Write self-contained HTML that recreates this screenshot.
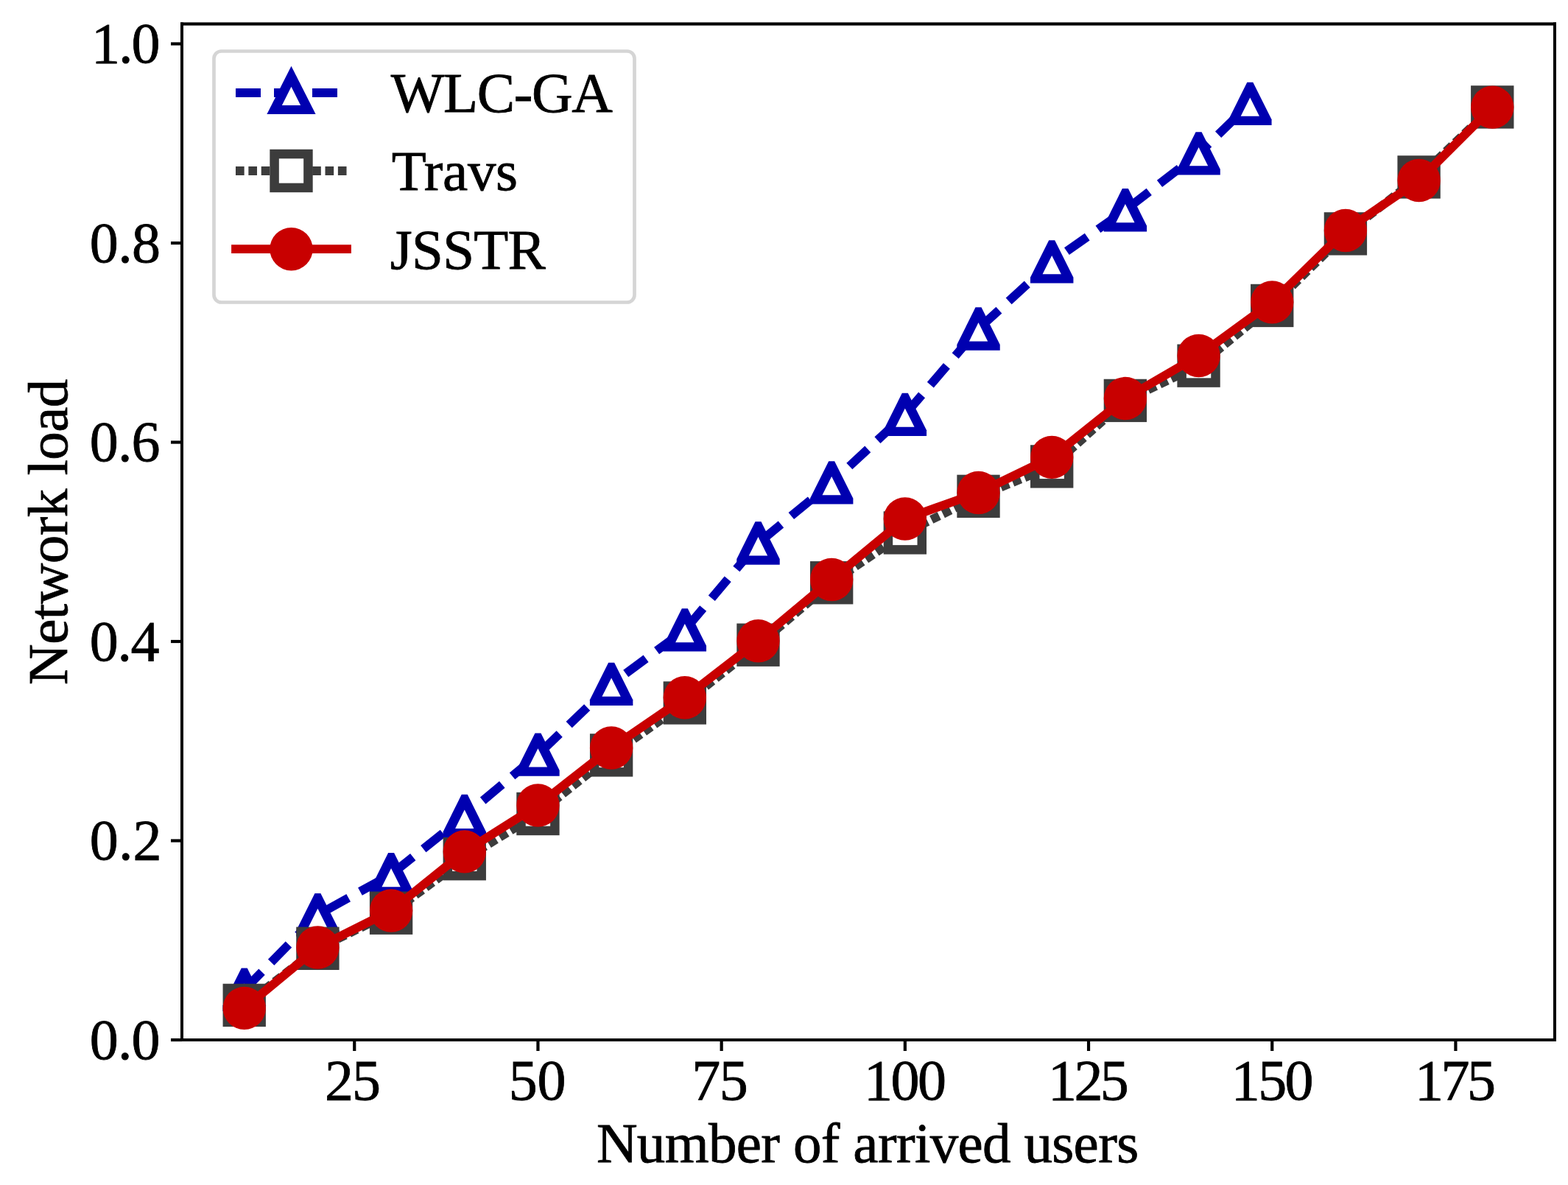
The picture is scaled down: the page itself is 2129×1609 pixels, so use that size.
<!DOCTYPE html><html><head><meta charset="utf-8"><title>Network load</title><style>html,body{margin:0;padding:0;background:#fff}svg{display:block}text{font-family:"Liberation Serif","Times New Roman",serif;fill:#000;stroke:#000;stroke-width:0.8px}</style></head><body>
<svg width="2129" height="1609" viewBox="0 0 2129 1609">
<rect width="2129" height="1609" fill="#fff"/>
<defs><clipPath id="ax"><rect x="247" y="32.5" width="1864" height="1379.5"/></clipPath></defs>
<g clip-path="url(#ax)">
<polyline points="331.73,1343.8 431.41,1242.2 531.09,1187.3 630.76,1108 730.44,1024.6 830.12,928.9 929.8,855.4 1029.48,737.5 1129.16,655.4 1228.84,562.9 1328.52,446.5 1428.2,355.4 1527.88,285.3 1627.56,208.45 1697.33,140.8" fill="none" stroke="#0000b0" stroke-width="11.8" stroke-dasharray="34 18" stroke-linecap="butt" stroke-linejoin="round"/>
<path fill="#0000b0" d="M327.73,1314.62 L335.73,1314.62 L360.95,1365.2 L360.95,1372.97 L302.5,1372.97 L302.5,1365.2Z"/><path fill="#fff" d="M331.73,1335.4 L344.38,1360.7 L319.08,1360.7Z"/>
<path fill="#0000b0" d="M427.41,1213.03 L435.41,1213.03 L460.63,1263.6 L460.63,1271.38 L402.18,1271.38 L402.18,1263.6Z"/><path fill="#fff" d="M431.41,1233.8 L444.06,1259.1 L418.76,1259.1Z"/>
<path fill="#0000b0" d="M527.09,1158.12 L535.09,1158.12 L560.31,1208.7 L560.31,1216.47 L501.86,1216.47 L501.86,1208.7Z"/><path fill="#fff" d="M531.09,1178.9 L543.74,1204.2 L518.44,1204.2Z"/>
<path fill="#0000b0" d="M626.76,1078.83 L634.76,1078.83 L659.99,1129.4 L659.99,1137.17 L601.54,1137.17 L601.54,1129.4Z"/><path fill="#fff" d="M630.76,1099.6 L643.41,1124.9 L618.11,1124.9Z"/>
<path fill="#0000b0" d="M726.44,995.42 L734.44,995.42 L759.67,1046 L759.67,1053.77 L701.22,1053.77 L701.22,1046Z"/><path fill="#fff" d="M730.44,1016.2 L743.09,1041.5 L717.79,1041.5Z"/>
<path fill="#0000b0" d="M826.12,899.73 L834.12,899.73 L859.35,950.3 L859.35,958.07 L800.9,958.07 L800.9,950.3Z"/><path fill="#fff" d="M830.12,920.5 L842.77,945.8 L817.47,945.8Z"/>
<path fill="#0000b0" d="M925.8,826.23 L933.8,826.23 L959.03,876.8 L959.03,884.57 L900.58,884.57 L900.58,876.8Z"/><path fill="#fff" d="M929.8,847 L942.45,872.3 L917.15,872.3Z"/>
<path fill="#0000b0" d="M1025.48,708.33 L1033.48,708.33 L1058.71,758.9 L1058.71,766.67 L1000.26,766.67 L1000.26,758.9Z"/><path fill="#fff" d="M1029.48,729.1 L1042.13,754.4 L1016.83,754.4Z"/>
<path fill="#0000b0" d="M1125.16,626.23 L1133.16,626.23 L1158.39,676.8 L1158.39,684.57 L1099.94,684.57 L1099.94,676.8Z"/><path fill="#fff" d="M1129.16,647 L1141.81,672.3 L1116.51,672.3Z"/>
<path fill="#0000b0" d="M1224.84,533.73 L1232.84,533.73 L1258.06,584.3 L1258.06,592.07 L1199.61,592.07 L1199.61,584.3Z"/><path fill="#fff" d="M1228.84,554.5 L1241.49,579.8 L1216.19,579.8Z"/>
<path fill="#0000b0" d="M1324.52,417.32 L1332.52,417.32 L1357.74,467.9 L1357.74,475.68 L1299.29,475.68 L1299.29,467.9Z"/><path fill="#fff" d="M1328.52,438.1 L1341.17,463.4 L1315.87,463.4Z"/>
<path fill="#0000b0" d="M1424.2,326.22 L1432.2,326.22 L1457.42,376.8 L1457.42,384.57 L1398.97,384.57 L1398.97,376.8Z"/><path fill="#fff" d="M1428.2,347 L1440.85,372.3 L1415.55,372.3Z"/>
<path fill="#0000b0" d="M1523.88,256.12 L1531.88,256.12 L1557.1,306.7 L1557.1,314.48 L1498.65,314.48 L1498.65,306.7Z"/><path fill="#fff" d="M1527.88,276.9 L1540.53,302.2 L1515.23,302.2Z"/>
<path fill="#0000b0" d="M1623.56,179.27 L1631.56,179.27 L1656.78,229.85 L1656.78,237.62 L1598.33,237.62 L1598.33,229.85Z"/><path fill="#fff" d="M1627.56,200.05 L1640.21,225.35 L1614.91,225.35Z"/>
<path fill="#0000b0" d="M1693.33,111.63 L1701.33,111.63 L1726.56,162.2 L1726.56,169.98 L1668.11,169.98 L1668.11,162.2Z"/><path fill="#fff" d="M1697.33,132.4 L1709.98,157.7 L1684.68,157.7Z"/>
<polyline points="331.73,1364.9 431.41,1287.8 531.09,1239.7 630.76,1166.2 730.44,1105 830.12,1025.4 929.8,954.45 1029.48,875.7 1129.16,791.25 1228.84,723.45 1328.52,673.85 1428.2,633.4 1527.88,543.9 1627.56,496.65 1727.24,414.95 1826.91,317.4 1926.59,240.45 2026.27,145.4" fill="none" stroke="#3c3c3c" stroke-width="11.8" stroke-dasharray="11.65 5.71" stroke-linecap="butt" stroke-linejoin="round"/>
<rect x="308.8" y="1341.98" width="45.85" height="45.85" fill="#fff" stroke="#3c3c3c" stroke-width="12.5"/>
<rect x="408.48" y="1264.88" width="45.85" height="45.85" fill="#fff" stroke="#3c3c3c" stroke-width="12.5"/>
<rect x="508.16" y="1216.78" width="45.85" height="45.85" fill="#fff" stroke="#3c3c3c" stroke-width="12.5"/>
<rect x="607.84" y="1143.28" width="45.85" height="45.85" fill="#fff" stroke="#3c3c3c" stroke-width="12.5"/>
<rect x="707.52" y="1082.08" width="45.85" height="45.85" fill="#fff" stroke="#3c3c3c" stroke-width="12.5"/>
<rect x="807.2" y="1002.48" width="45.85" height="45.85" fill="#fff" stroke="#3c3c3c" stroke-width="12.5"/>
<rect x="906.88" y="931.53" width="45.85" height="45.85" fill="#fff" stroke="#3c3c3c" stroke-width="12.5"/>
<rect x="1006.56" y="852.78" width="45.85" height="45.85" fill="#fff" stroke="#3c3c3c" stroke-width="12.5"/>
<rect x="1106.24" y="768.33" width="45.85" height="45.85" fill="#fff" stroke="#3c3c3c" stroke-width="12.5"/>
<rect x="1205.91" y="700.53" width="45.85" height="45.85" fill="#fff" stroke="#3c3c3c" stroke-width="12.5"/>
<rect x="1305.59" y="650.93" width="45.85" height="45.85" fill="#fff" stroke="#3c3c3c" stroke-width="12.5"/>
<rect x="1405.27" y="610.48" width="45.85" height="45.85" fill="#fff" stroke="#3c3c3c" stroke-width="12.5"/>
<rect x="1504.95" y="520.98" width="45.85" height="45.85" fill="#fff" stroke="#3c3c3c" stroke-width="12.5"/>
<rect x="1604.63" y="473.72" width="45.85" height="45.85" fill="#fff" stroke="#3c3c3c" stroke-width="12.5"/>
<rect x="1704.31" y="392.02" width="45.85" height="45.85" fill="#fff" stroke="#3c3c3c" stroke-width="12.5"/>
<rect x="1803.99" y="294.47" width="45.85" height="45.85" fill="#fff" stroke="#3c3c3c" stroke-width="12.5"/>
<rect x="1903.67" y="217.52" width="45.85" height="45.85" fill="#fff" stroke="#3c3c3c" stroke-width="12.5"/>
<rect x="2003.35" y="122.48" width="45.85" height="45.85" fill="#fff" stroke="#3c3c3c" stroke-width="12.5"/>
<polyline points="331.73,1368.9 431.41,1286.5 531.09,1236.5 630.76,1156.4 730.44,1093.5 830.12,1015.5 929.8,947.3 1029.48,870.3 1129.16,787 1228.84,704.5 1328.52,669 1428.2,620.9 1527.88,541 1627.56,483 1727.24,410.35 1826.91,312.95 1926.59,245 2026.27,145.6" fill="none" stroke="#c80000" stroke-width="11.8" stroke-linecap="square" stroke-linejoin="round"/>
<circle cx="331.73" cy="1368.9" r="29.18" fill="#c80000"/>
<circle cx="431.41" cy="1286.5" r="29.18" fill="#c80000"/>
<circle cx="531.09" cy="1236.5" r="29.18" fill="#c80000"/>
<circle cx="630.76" cy="1156.4" r="29.18" fill="#c80000"/>
<circle cx="730.44" cy="1093.5" r="29.18" fill="#c80000"/>
<circle cx="830.12" cy="1015.5" r="29.18" fill="#c80000"/>
<circle cx="929.8" cy="947.3" r="29.18" fill="#c80000"/>
<circle cx="1029.48" cy="870.3" r="29.18" fill="#c80000"/>
<circle cx="1129.16" cy="787" r="29.18" fill="#c80000"/>
<circle cx="1228.84" cy="704.5" r="29.18" fill="#c80000"/>
<circle cx="1328.52" cy="669" r="29.18" fill="#c80000"/>
<circle cx="1428.2" cy="620.9" r="29.18" fill="#c80000"/>
<circle cx="1527.88" cy="541" r="29.18" fill="#c80000"/>
<circle cx="1627.56" cy="483" r="29.18" fill="#c80000"/>
<circle cx="1727.24" cy="410.35" r="29.18" fill="#c80000"/>
<circle cx="1826.91" cy="312.95" r="29.18" fill="#c80000"/>
<circle cx="1926.59" cy="245" r="29.18" fill="#c80000"/>
<circle cx="2026.27" cy="145.6" r="29.18" fill="#c80000"/>
</g>
<rect x="245" y="30.4" width="4" height="1383.6" fill="#000"/>
<rect x="2109" y="30.4" width="4" height="1383.6" fill="#000"/>
<rect x="245" y="30.4" width="1868" height="4.2" fill="#000"/>
<rect x="245" y="1410" width="1868" height="4" fill="#000"/>
<rect x="232" y="1409.9" width="15" height="4.2" fill="#000"/>
<rect x="232" y="1139.4" width="15" height="4.2" fill="#000"/>
<rect x="232" y="868.9" width="15" height="4.2" fill="#000"/>
<rect x="232" y="598.4" width="15" height="4.2" fill="#000"/>
<rect x="232" y="327.9" width="15" height="4.2" fill="#000"/>
<rect x="232" y="57.4" width="15" height="4.2" fill="#000"/>
<rect x="479.15" y="1412" width="4.2" height="15" fill="#000"/>
<rect x="728.34" y="1412" width="4.2" height="15" fill="#000"/>
<rect x="977.54" y="1412" width="4.2" height="15" fill="#000"/>
<rect x="1226.74" y="1412" width="4.2" height="15" fill="#000"/>
<rect x="1475.94" y="1412" width="4.2" height="15" fill="#000"/>
<rect x="1725.14" y="1412" width="4.2" height="15" fill="#000"/>
<rect x="1974.33" y="1412" width="4.2" height="15" fill="#000"/>
<text x="121.8" y="1437.6" font-size="78" textLength="95.7" lengthAdjust="spacing">0.0</text>
<text x="121.8" y="1167.1" font-size="78" textLength="97.7" lengthAdjust="spacing">0.2</text>
<text x="121.8" y="896.6" font-size="78" textLength="94.7" lengthAdjust="spacing">0.4</text>
<text x="121.8" y="626.1" font-size="78" textLength="95.7" lengthAdjust="spacing">0.6</text>
<text x="121.8" y="355.6" font-size="78" textLength="96.2" lengthAdjust="spacing">0.8</text>
<text x="123.9" y="85.1" font-size="78" textLength="93.6" lengthAdjust="spacing">1.0</text>
<text x="441" y="1493" font-size="78" textLength="76.1" lengthAdjust="spacing">25</text>
<text x="690.8" y="1493" font-size="78" textLength="77.6" lengthAdjust="spacing">50</text>
<text x="939.3" y="1493" font-size="78" textLength="76.4" lengthAdjust="spacing">75</text>
<text x="1172.9" y="1493" font-size="78" textLength="112.1" lengthAdjust="spacing">100</text>
<text x="1423" y="1493" font-size="78" textLength="109.8" lengthAdjust="spacing">125</text>
<text x="1671.8" y="1493" font-size="78" textLength="111.8" lengthAdjust="spacing">150</text>
<text x="1921" y="1493" font-size="78" textLength="110" lengthAdjust="spacing">175</text>
<text x="809.9" y="1578" font-size="77" textLength="736.2" lengthAdjust="spacing">Number of arrived users</text>
<text transform="translate(91,929.9) rotate(-90)" x="0" y="0" font-size="77" textLength="415.25" lengthAdjust="spacing">Network load</text>
<rect x="290.5" y="69.5" width="571" height="341" rx="10" ry="10" fill="#fff" stroke="#d5d5d5" stroke-width="4.7"/>
<line x1="320" y1="126" x2="471" y2="126" stroke="#0000b0" stroke-width="11.8" stroke-dasharray="34 18" />
<polygon points="395.5,89.7 428.6,154.95 362.4,154.95" fill="#0000b0"/>
<polygon points="395.5,117.7 408.15,143 382.85,143" fill="#fff"/>
<line x1="320" y1="232" x2="471" y2="232" stroke="#3c3c3c" stroke-width="11.8" stroke-dasharray="11.65 5.71"/>
<rect x="372.57" y="209.07" width="45.85" height="45.85" fill="#fff" stroke="#3c3c3c" stroke-width="12.5"/>
<line x1="320" y1="338.2" x2="471" y2="338.2" stroke="#c80000" stroke-width="11.8" stroke-linecap="square"/>
<circle cx="395.5" cy="338.2" r="29.18" fill="#c80000"/>
<text x="530.8" y="152" font-size="77" textLength="300.94" lengthAdjust="spacing">WLC-GA</text>
<text x="531.8" y="258.2" font-size="77" textLength="171.23" lengthAdjust="spacing">Travs</text>
<text x="529.8" y="364.7" font-size="77" textLength="211.12" lengthAdjust="spacing">JSSTR</text>
</svg></body></html>
